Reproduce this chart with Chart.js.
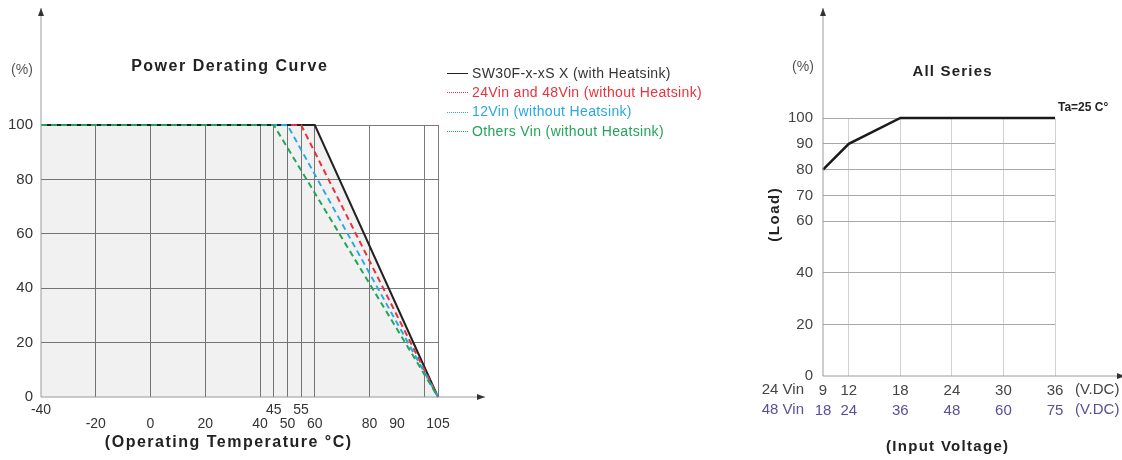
<!DOCTYPE html>
<html>
<head>
<meta charset="utf-8">
<script src="https://cdn.jsdelivr.net/npm/chart.js@4.4.1/dist/chart.umd.min.js"></script>
<style>
  body { margin: 0; background: #fff; width: 1122px; height: 460px; overflow: hidden; position: relative;
         font-family: 'Liberation Sans', Arial, sans-serif; }
  canvas { position: absolute; top: 0; }
  #derating { left: 0; }
  #inputV { left: 760px; }
  #legend { position: absolute; left: 447px; top: 64px; font-size: 14px; line-height: 19.2px; letter-spacing: 0.35px; }
  #legend .row { display: flex; align-items: center; white-space: nowrap; }
  #legend .key { width: 21px; margin-right: 4px; border-top: 1px solid; }
</style>
</head>
<body>
<canvas id="derating" width="760" height="460"></canvas>
<canvas id="inputV" width="362" height="460"></canvas>
<div id="legend"></div>

<script>
const FONT = "'Liberation Sans', Arial, sans-serif";

// --- derating curve (left) ---
const seriesNames = [
    'SW30F-x-xS X (with Heatsink)',
    '24Vin and 48Vin (without Heatsink)',
    '12Vin (without Heatsink)',
    'Others Vin (without Heatsink)'
];
const seriesColors = ['#222222', '#e8323c', '#27a8e0', '#22a45a'];
const withHeatsinkTemp = [-40, 60, 105];
const vin24and48Temp = [-40, 55, 105];
const vin12Temp = [-40, 50, 105];
const othersTemp = [-40, 45, 105];
const deratingLoad = [100, 100, 0];

const tempTicks = [-40, -20, 0, 20, 40, 45, 50, 55, 60, 80, 90, 100, 105];
const tempTickLabels = ['-40', '-20', '0', '20', '40', '45', '50', '55', '60', '80', '90', '', '105'];
const raisedLabels = ['-40', '45', '55'];
const labelOnlyTicks = [90];
const pctTicks = [0, 20, 40, 60, 80, 100];

// --- input voltage curve (right) ---
const vin24 = [9, 12, 18, 24, 30, 36];
const vin48 = [18, 24, 36, 48, 60, 75];
const loadPct = [80, 90, 100, 100, 100, 100];
const loadTicks = [0, 20, 40, 60, 70, 80, 90, 100];

const CLEAR = 'rgba(0,0,0,0)';
const PURPLE = '#5a4e96';

function arrowLine(ctx, x1, y1, x2, y2) {
    ctx.save();
    ctx.strokeStyle = '#9a9a9a';
    ctx.fillStyle = '#333';
    ctx.lineWidth = 1;
    ctx.beginPath();
    ctx.moveTo(x1, y1);
    ctx.lineTo(x2, y2);
    ctx.stroke();
    const a = Math.atan2(y2 - y1, x2 - x1);
    ctx.translate(x2, y2);
    ctx.rotate(a);
    ctx.beginPath();
    ctx.moveTo(0, 0);
    ctx.lineTo(-8, -3);
    ctx.lineTo(-8, 3);
    ctx.closePath();
    ctx.fill();
    ctx.restore();
}

function label(ctx, text, x, y, font, color, align, spacing) {
    ctx.save();
    ctx.font = font;
    ctx.fillStyle = color;
    ctx.textAlign = align || 'center';
    ctx.textBaseline = 'middle';
    if (spacing) ctx.letterSpacing = spacing + 'px';
    // keep centred text centred when letter spacing adds a trailing gap
    const dx = (spacing && (align || 'center') === 'center') ? spacing / 2 : 0;
    ctx.fillText(text, x + dx, y);
    ctx.restore();
}

const leftDecor = {
    id: 'leftDecor',
    afterDraw(chart) {
        const {ctx, chartArea: a} = chart;
        arrowLine(ctx, a.left, a.bottom, a.left, 8);
        arrowLine(ctx, a.left, a.bottom, 485, a.bottom);
        label(ctx, '(%)', 22, 70, '14px ' + FONT, '#555');
        label(ctx, 'Power Derating Curve', 229, 67, 'bold 16px ' + FONT, '#222', 'center', 1.5);
        label(ctx, '(Operating Temperature °C)', 228, 443, 'bold 16px ' + FONT, '#222', 'center', 1.5);
    }
};

const rightDecor = {
    id: 'rightDecor',
    afterDraw(chart) {
        const {ctx, chartArea: a} = chart;
        arrowLine(ctx, a.left, a.bottom, a.left, 8);
        arrowLine(ctx, a.left, a.bottom, 365, a.bottom);
        label(ctx, '(%)', 43, 67, '14px ' + FONT, '#555');
        label(ctx, 'All Series', 192, 72, 'bold 15px ' + FONT, '#222', 'center', 1.2);
        label(ctx, 'Ta=25 C°', 298, 108, 'bold 12px ' + FONT, '#222', 'left');
        label(ctx, '24 Vin', 44, 390, '15px ' + FONT, '#444', 'right');
        label(ctx, '48 Vin', 44, 410, '15px ' + FONT, PURPLE, 'right');
        label(ctx, '(V.DC)', 315, 390, '15px ' + FONT, '#444', 'left');
        label(ctx, '(V.DC)', 315, 410, '15px ' + FONT, PURPLE, 'left');
        label(ctx, '(Input Voltage)', 187, 447, 'bold 15px ' + FONT, '#222', 'center', 1.3);
        ctx.save();
        ctx.translate(15, 215);
        ctx.rotate(-Math.PI / 2);
        label(ctx, '(Load)', 0, 0, 'bold 15px ' + FONT, '#222', 'center', 1.5);
        ctx.restore();
    }
};

const seriesTemps = [withHeatsinkTemp, vin24and48Temp, vin12Temp, othersTemp];

const deratingChart = new Chart(document.getElementById('derating'), {
    type: 'line',
    data: {
        datasets: seriesNames.map((name, i) => ({
            label: name,
            data: seriesTemps[i].map((t, j) => ({x: t, y: deratingLoad[j]})),
            borderColor: seriesColors[i],
            borderWidth: 2,
            borderDash: i === 0 ? [] : [6, 4],
            pointRadius: 0,
            clip: false,
            fill: i === 0 ? 'origin' : false,
            backgroundColor: i === 0 ? 'rgba(0,0,0,0.055)' : CLEAR,
            order: seriesNames.length - i
        }))
    },
    options: {
        responsive: false,
        animation: false,
        layout: {padding: {left: 0, right: 322, top: 125, bottom: 0}},
        plugins: {legend: {display: false}, tooltip: {enabled: false}},
        scales: {
            x: {
                type: 'linear', min: -40, max: 105,
                afterFit: s => { s.height = 63; },
                afterBuildTicks: s => { s.ticks = tempTicks.map(v => ({value: v})); },
                border: {display: false},
                grid: {
                    drawTicks: false,
                    color: c => (c.tick && (c.tick.value === -40 || labelOnlyTicks.includes(c.tick.value))) ? CLEAR : '#7a7a7a'
                },
                ticks: {
                    padding: 6, maxRotation: 0, autoSkip: false, color: '#333',
                    font: {size: 14, family: FONT, lineHeight: 1},
                    callback: (v, i) => {
                        const t = tempTickLabels[i];
                        return raisedLabels.includes(t) ? [t, ''] : ['', t];
                    }
                }
            },
            y: {
                min: 0, max: 100,
                afterFit: s => { s.width = 41; },
                afterBuildTicks: s => { s.ticks = pctTicks.map(v => ({value: v})); },
                border: {display: false},
                grid: {drawTicks: false, color: c => (c.tick && c.tick.value === 0) ? CLEAR : '#7a7a7a'},
                ticks: {padding: 8, color: '#333', font: {size: 15, family: FONT}}
            }
        }
    },
    plugins: [leftDecor]
});

// html legend from the datasets
const legend = document.getElementById('legend');
deratingChart.data.datasets.forEach((ds, i) => {
    const row = document.createElement('div');
    row.className = 'row';
    row.style.color = i === 0 ? '#333' : ds.borderColor;
    const key = document.createElement('span');
    key.className = 'key';
    key.style.borderTopColor = ds.borderColor;
    key.style.borderTopStyle = i === 0 ? 'solid' : 'dotted';
    row.appendChild(key);
    row.appendChild(document.createTextNode(ds.label));
    legend.appendChild(row);
});

new Chart(document.getElementById('inputV'), {
    type: 'line',
    data: {
        datasets: [{
            label: 'Load',
            data: vin24.map((v, i) => ({x: v, y: loadPct[i]})),
            borderColor: '#1a1a1a',
            borderWidth: 2.5,
            pointRadius: 0,
            clip: false,
            fill: false
        }]
    },
    options: {
        responsive: false,
        animation: false,
        layout: {padding: {left: 0, right: 67, top: 118, bottom: 0}},
        plugins: {legend: {display: false}, tooltip: {enabled: false}},
        scales: {
            x: {
                type: 'linear', min: 9, max: 36, weight: 0,
                afterFit: s => { s.height = 24; },
                afterBuildTicks: s => { s.ticks = vin24.map(v => ({value: v})); },
                border: {display: false},
                grid: {drawTicks: false, color: c => (c.tick && c.tick.value === 9) ? CLEAR : '#d0d0d0'},
                ticks: {
                    padding: 7, maxRotation: 0, autoSkip: false, color: '#444',
                    font: {size: 15, family: FONT, lineHeight: 1},
                    callback: (v, i) => String(vin24[i])
                }
            },
            x2: {
                type: 'linear', axis: 'x', position: 'bottom', min: 9, max: 36, weight: 1,
                afterFit: s => { s.height = 60; },
                afterBuildTicks: s => { s.ticks = vin24.map(v => ({value: v})); },
                border: {display: false},
                grid: {display: false, drawTicks: false},
                ticks: {
                    padding: 3, maxRotation: 0, autoSkip: false, color: PURPLE,
                    font: {size: 15, family: FONT, lineHeight: 1},
                    callback: (v, i) => String(vin48[i])
                }
            },
            y: {
                min: 0, max: 100,
                afterFit: s => { s.width = 63; },
                afterBuildTicks: s => { s.ticks = loadTicks.map(v => ({value: v})); },
                border: {display: false},
                grid: {drawTicks: false, color: c => (c.tick && c.tick.value === 0) ? CLEAR : '#a8a8a8'},
                ticks: {padding: 10, color: '#444', font: {size: 15, family: FONT}}
            }
        }
    },
    plugins: [rightDecor]
});
</script>
</body>
</html>
